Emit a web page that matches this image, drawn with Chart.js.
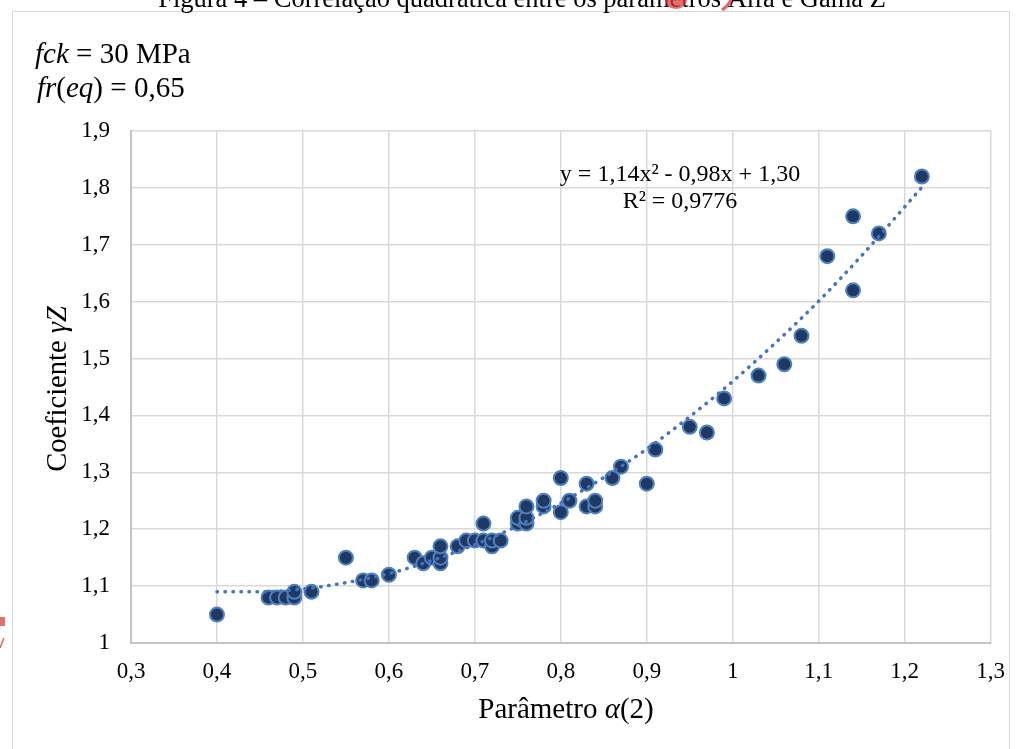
<!DOCTYPE html>
<html>
<head>
<meta charset="utf-8">
<script src="https://cdn.jsdelivr.net/npm/chart.js@4.4.1/dist/chart.umd.min.js"></script>
<style>
html,body{margin:0;padding:0;background:#fff;}
canvas{display:block;}
</style>
</head>
<body>
<canvas id="c" width="1020" height="749"></canvas>
<script>
// ---- data ----
const alphaValues = [0.40,0.46,0.47,0.48,0.49,0.49,0.51,0.55,0.57,0.58,0.60,0.63,0.64,0.65,0.66,0.66,0.66,0.68,0.69,0.70,0.71,0.71,0.72,0.72,0.73,0.75,0.75,0.76,0.76,0.76,0.78,0.78,0.80,0.80,0.81,0.83,0.83,0.84,0.84,0.86,0.87,0.90,0.91,0.95,0.97,0.99,1.03,1.06,1.08,1.11,1.14,1.14,1.17,1.22];
const gammaValues = [1.05,1.08,1.08,1.08,1.08,1.09,1.09,1.15,1.11,1.11,1.12,1.15,1.14,1.15,1.14,1.15,1.17,1.17,1.18,1.18,1.18,1.21,1.17,1.18,1.18,1.21,1.22,1.21,1.22,1.24,1.24,1.25,1.23,1.29,1.25,1.24,1.28,1.24,1.25,1.29,1.31,1.28,1.34,1.38,1.37,1.43,1.47,1.49,1.54,1.68,1.62,1.75,1.72,1.82];
const trendX = [0.40,0.45,0.50,0.55,0.60,0.65,0.70,0.75,0.80,0.85,0.90,0.95,1.00,1.05,1.10,1.15,1.22];
const trendY = [1.090,1.090,1.095,1.106,1.122,1.145,1.173,1.206,1.246,1.291,1.341,1.398,1.460,1.528,1.601,1.681,1.801];
const xTickLabels = ['0,3','0,4','0,5','0,6','0,7','0,8','0,9','1','1,1','1,2','1,3'];
const yTickLabels = ['1','1,1','1,2','1,3','1,4','1,5','1,6','1,7','1,8','1,9'];
const titleText = 'Figura 4 – Correlação quadrática entre os parâmetros Alfa e Gama Z';
const equationText = 'y = 1,14x² - 0,98x + 1,30';
const r2Text = 'R² = 0,9776';

const SERIF = '"Liberation Serif", "Times New Roman", serif';

function drawRuns(ctx, runs, x, y, align) {
  // runs: [text, italic, size]
  let total = 0;
  const widths = runs.map(r => {
    ctx.font = (r[1] ? 'italic ' : '') + r[2] + 'px ' + SERIF;
    const w = ctx.measureText(r[0]).width;
    total += w;
    return w;
  });
  let cx = align === 'center' ? x - total / 2 : x;
  ctx.textAlign = 'left';
  runs.forEach((r, i) => {
    ctx.font = (r[1] ? 'italic ' : '') + r[2] + 'px ' + SERIF;
    ctx.fillText(r[0], cx, y);
    cx += widths[i];
  });
}

const decor = {
  id: 'decor',
  beforeDraw(chart) {
    const ctx = chart.ctx;
    ctx.save();
    ctx.fillStyle = '#fff';
    ctx.fillRect(0, 0, chart.width, chart.height);
    ctx.strokeStyle = '#d9d9d9';
    ctx.lineWidth = 1;
    ctx.strokeRect(12.5, 11.5, 997, 800);
    ctx.restore();
  },
  afterDraw(chart) {
    const ctx = chart.ctx;
    ctx.save();
    ctx.fillStyle = '#000';
    ctx.textBaseline = 'alphabetic';
    // clipped caption at top
    ctx.font = '26.5px ' + SERIF;
    ctx.textAlign = 'center';
    ctx.fillText(titleText, 522, 7);
    // red stamp artifacts
    ctx.fillStyle = 'rgba(220,60,60,0.75)';
    ctx.beginPath();
    ctx.ellipse(676, 0, 11, 9, 0, 0, Math.PI);
    ctx.fill();
    ctx.strokeStyle = 'rgba(220,60,60,0.8)';
    ctx.lineWidth = 3;
    ctx.beginPath();
    ctx.moveTo(731, 0); ctx.quadraticCurveTo(728, 6, 722, 10);
    ctx.stroke();
    ctx.fillRect(0, 617, 5, 9);
    ctx.lineWidth = 1.5;
    ctx.beginPath(); ctx.moveTo(4, 638); ctx.lineTo(0, 648); ctx.stroke();

    ctx.fillStyle = '#000';
    // annotations
    drawRuns(ctx, [['fck', true, 29], [' = 30 MPa', false, 29]], 35, 63, 'left');
    drawRuns(ctx, [['fr', true, 29], ['(', false, 29], ['eq', true, 29], [')', false, 29], [' = 0,65', false, 29]], 37, 97, 'left');
    // equation
    ctx.font = '24px ' + SERIF;
    ctx.textAlign = 'center';
    ctx.fillText(equationText, 680, 181);
    ctx.fillText(r2Text, 680, 208);
    // x axis title
    drawRuns(ctx, [['Parâmetro ', false, 29], ['α', true, 29], ['(2)', false, 29]], 566, 718, 'center');
    // y axis title
    ctx.translate(66, 389);
    ctx.rotate(-Math.PI / 2);
    drawRuns(ctx, [['Coeficiente ', false, 28.5], ['γZ', true, 28.5]], 0, 0, 'center');
    ctx.restore();
  }
};

const scatterData = alphaValues.map((x, i) => ({x: x, y: gammaValues[i]}));
const trendData = trendX.map((x, i) => ({x: x, y: trendY[i]}));

new Chart(document.getElementById('c'), {
  type: 'scatter',
  data: {
    datasets: [
      {
        label: 'Tendência',
        data: trendData,
        showLine: true,
        order: 0,
        borderColor: '#4472c4',
        borderWidth: 3.5,
        borderDash: [0.5, 7.5],
        borderCapStyle: 'round',
        pointRadius: 0,
        tension: 0.4,
        cubicInterpolationMode: 'monotone',
        fill: false
      },
      {
        label: 'Dados',
        data: scatterData,
        order: 1,
        pointRadius: 7,
        pointBackgroundColor: '#203864',
        pointBorderColor: '#4f81bd',
        pointBorderWidth: 2,
        pointHoverRadius: 7
      }
    ]
  },
  options: {
    responsive: false,
    devicePixelRatio: 1,
    animation: false,
    layout: {padding: {left: 0, top: 131, right: 28, bottom: 0}},
    plugins: {legend: {display: false}, tooltip: {enabled: false}, title: {display: false}},
    scales: {
      x: {
        type: 'linear',
        min: 0.3,
        max: 1.3,
        afterFit(scale) { scale.height = 106; },
        ticks: {
          stepSize: 0.1,
          padding: 15,
          color: '#000',
          font: {family: SERIF, size: 23},
          maxRotation: 0,
          callback: (v, i) => xTickLabels[i]
        },
        grid: {color: '#d9d9d9', lineWidth: 1.5, drawTicks: false},
        border: {color: '#c4c4c4', width: 2}
      },
      y: {
        type: 'linear',
        min: 1,
        max: 1.9,
        afterFit(scale) { scale.width = 131; },
        ticks: {
          stepSize: 0.1,
          padding: 21,
          color: '#000',
          font: {family: SERIF, size: 23},
          callback: (v, i) => yTickLabels[i]
        },
        grid: {color: '#d9d9d9', lineWidth: 1.5, drawTicks: false},
        border: {color: '#c4c4c4', width: 2}
      }
    }
  },
  plugins: [decor]
});
</script>
</body>
</html>
